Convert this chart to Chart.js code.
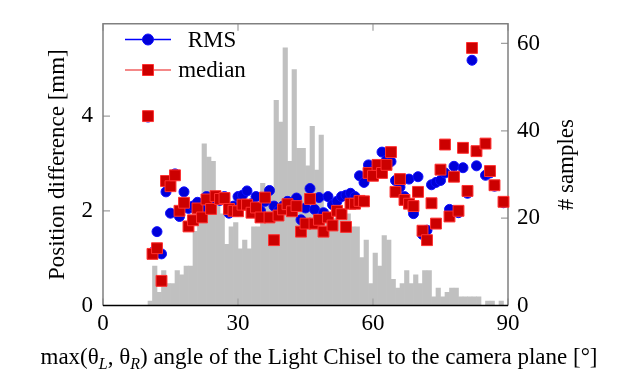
<!DOCTYPE html>
<html>
<head>
<meta charset="utf-8">
<script src="https://cdn.jsdelivr.net/npm/chart.js@4/dist/chart.umd.min.js"></script>
<style>
  html, body { margin: 0; padding: 0; background: #fff; }
  #wrap { width: 618px; height: 376px; }
</style>
</head>
<body>
<div id="wrap"><canvas id="chart" width="618" height="376"></canvas></div>
<script>
// histogram: bin start angle [deg] and number of samples in the bin
const binStarts = [8, 9, 10, 11, 12, 13, 14, 15, 16, 17, 18, 19, 20, 21, 22, 23, 24, 25, 26, 27, 28, 29,
  30, 31, 32, 33, 34, 35, 36, 37, 38, 39, 40, 41, 42, 43, 44, 45, 46, 47, 48, 49,
  50, 51, 52, 53, 54, 55, 56, 57, 58, 59, 60, 61, 62, 63, 64, 65, 66, 67, 68, 69,
  70, 71, 72, 73, 74, 75, 76, 77, 78, 79, 80, 81, 82, 83, 84, 85, 86, 87, 88, 89];
const sampleCounts = [0, 0, 1, 9, 3, 8, 5, 5, 8, 7, 9, 9, 17, 20, 37, 34, 33, 23, 21, 14, 18, 19,
  13, 15, 13, 18, 18, 28, 26, 27, 47, 42, 59, 33, 54, 36, 36, 32, 41, 31, 39, 22,
  21, 20, 21, 22, 21, 18, 18, 11, 15, 5, 12, 9, 16, 15, 6, 4, 5, 8, 5, 7,
  5, 8, 8, 2, 4, 2, 3, 4, 4, 2, 2, 2, 2, 2, 0, 1, 1, 0, 1, 0];

// per-angle position error [mm]
const angles = [10, 11, 12, 13, 14, 15, 16, 17, 18, 19, 20, 21, 22, 23, 24, 25, 26, 27, 28, 29,
  30, 31, 32, 33, 34, 35, 36, 37, 38, 39, 40, 41, 42, 43, 44, 45, 46, 47, 48, 49,
  50, 51, 52, 53, 54, 55, 56, 57, 58, 59, 60, 61, 62, 63, 64, 65, 66, 67, 68, 69,
  70, 71, 72, 73, 74, 75, 76, 77, 78, 79, 80, 81, 82, 83, 84, 85, 86, 87, 88, 89];
const rmsValues = [3.98, 1.12, 1.56, 1.09, 2.40, 1.95, 2.78, 1.88, 2.40, 2.05, 2.10, 2.18, 2.02, 2.30, 2.12, 2.30, 2.22, 2.30, 1.95, 2.10,
  2.30, 2.33, 2.42, 2.15, 2.30, 2.00, 2.20, 2.43, 2.10, 2.00, 2.10, 2.20, 2.05, 2.27, 1.81, 2.06, 2.47, 2.03, 2.28, 1.96,
  2.30, 2.13, 2.20, 2.30, 2.33, 2.37, 2.30, 2.74, 2.60, 2.97, 2.85, 2.95, 3.24, 3.07, 3.04, 2.64, 2.50, 2.30, 2.67, 1.94,
  2.72, 1.50, 1.59, 2.55, 2.60, 2.64, 2.80, 2.03, 2.94, 1.96, 2.91, 2.37, 5.18, 2.95, null, 2.75, 2.80, 2.52, null, 2.17];
const medianValues = [4.00, 1.09, 1.21, 0.52, 2.63, 2.52, 2.75, 2.00, 2.17, 1.67, 1.80, 2.05, 1.86, 2.24, 2.04, 2.31, 2.25, 2.27, 2.04, 2.00,
  1.99, 2.13, 2.13, 1.96, 2.07, 1.86, 2.28, 1.86, 1.38, 1.90, 2.03, 2.14, 1.99, 2.10, 1.56, 1.73, 2.25, 1.73, 1.81, 1.56,
  1.86, 1.69, 2.00, 1.93, 1.66, 2.15, 2.15, 2.21, 2.20, 2.80, 2.74, 2.97, 2.80, 2.97, 3.24, 2.40, 2.67, 2.23, 2.15, 2.10,
  2.40, 1.58, 1.38, 2.16, 1.73, 2.87, 3.40, 1.88, 2.72, 2.00, 3.33, 2.42, 5.44, 3.26, null, 3.42, 2.84, 2.54, null, 2.19];

// axes
const xTicks = [0, 30, 60, 90];
const yTicks = [0, 2, 4];
const y2Ticks = [0, 20, 40, 60];
const xRange = [0, 90];
const yRange = [0, 5.95];
const y2Range = [0, 64.5];

const FONT = "'Liberation Serif', 'Times New Roman', Times, serif";
const FS = 23;
const BLUE = "#0000d8", BLUE_EDGE = "#1010ff";
const RED = "#cc0000", RED_EDGE = "#ff3030";

const toPoints = (vals) => angles.map((a, i) => ({ x: a, y: vals[i] })).filter((p) => p.y !== null);
const fixTicks = (list) => (s) => { s.ticks = list.map((v) => ({ value: v })); };

// frame + inward tick marks, drawn right after the histogram
const framePlugin = {
  id: "frame",
  afterDatasetDraw(chart, args) {
    if (args.meta.type !== "bar") return;
    const { ctx, chartArea: a, scales } = chart;
    ctx.save();
    ctx.strokeStyle = "#a0a0a0";
    ctx.lineWidth = 1.2;
    const tl = 7;
    ctx.beginPath();
    xTicks.forEach((v) => {
      const px = scales.x.getPixelForValue(v);
      ctx.moveTo(px, a.bottom); ctx.lineTo(px, a.bottom - tl);
      ctx.moveTo(px, a.top); ctx.lineTo(px, a.top + tl);
    });
    yTicks.forEach((v) => {
      const py = scales.y.getPixelForValue(v);
      ctx.moveTo(a.left, py); ctx.lineTo(a.left + tl, py);
    });
    y2Ticks.forEach((v) => {
      const py = scales.y2.getPixelForValue(v);
      ctx.moveTo(a.right, py); ctx.lineTo(a.right - tl, py);
    });
    ctx.stroke();
    ctx.lineWidth = 1.5;
    ctx.strokeStyle = "#808080";
    ctx.beginPath();
    ctx.moveTo(a.left, a.bottom); ctx.lineTo(a.left, a.top); ctx.lineTo(a.right, a.top); ctx.lineTo(a.right, a.bottom);
    ctx.stroke();
    ctx.strokeStyle = "#000";
    ctx.beginPath();
    ctx.moveTo(a.left, a.bottom); ctx.lineTo(a.right, a.bottom);
    ctx.stroke();
    ctx.restore();
  },
};

function rotatedText(ctx, text, x, y) {
  ctx.save();
  ctx.translate(x, y);
  ctx.rotate(-Math.PI / 2);
  ctx.textAlign = "center";
  ctx.textBaseline = "middle";
  ctx.fillText(text, 0, 0);
  ctx.restore();
}

// x label with subscripts
function richText(ctx, parts, cx, baseline) {
  const fontOf = (p) => (p.sub ? `italic ${Math.round(FS * 0.7)}px ${FONT}` : `${FS}px ${FONT}`);
  let total = 0;
  parts.forEach((p) => { ctx.font = fontOf(p); total += ctx.measureText(p.t).width; });
  let x = cx - total / 2;
  ctx.textAlign = "left";
  ctx.textBaseline = "alphabetic";
  parts.forEach((p) => {
    ctx.font = fontOf(p);
    ctx.fillText(p.t, x, baseline + (p.sub ? 5 : 0));
    x += ctx.measureText(p.t).width;
  });
}

const labelsPlugin = {
  id: "labels",
  afterDraw(chart) {
    const { ctx, chartArea: a } = chart;
    ctx.save();
    ctx.fillStyle = "#000";
    ctx.font = `${FS}px ${FONT}`;
    const midY = (a.top + a.bottom) / 2;
    rotatedText(ctx, "Position difference [mm]", 58, midY);
    rotatedText(ctx, "# samples", 567, midY);
    richText(ctx, [
      { t: "max(θ" }, { t: "L", sub: true }, { t: ", θ" }, { t: "R", sub: true },
      { t: ") angle of the Light Chisel to the camera plane [°]" },
    ], 319, 364);

    // legend
    const rows = [
      { ds: chart.data.datasets[1], y: 39.5 },
      { ds: chart.data.datasets[2], y: 70 },
    ];
    rows.forEach(({ ds, y }) => {
      ctx.strokeStyle = ds.legendLine;
      ctx.lineWidth = 1.3;
      ctx.beginPath(); ctx.moveTo(125, y); ctx.lineTo(171, y); ctx.stroke();
      ctx.fillStyle = ds.backgroundColor;
      ctx.strokeStyle = ds.borderColor;
      ctx.lineWidth = 1;
      ctx.beginPath();
      if (ds.pointStyle === "rect") ctx.rect(148 - 5.5, y - 5.5, 11, 11);
      else ctx.arc(148, y, 5.5, 0, Math.PI * 2);
      ctx.fill(); ctx.stroke();
      ctx.fillStyle = "#000";
      ctx.font = `${FS}px ${FONT}`;
      ctx.textAlign = "center";
      ctx.textBaseline = "middle";
      ctx.fillText(ds.label, 212, y + 1);
    });
    ctx.restore();
  },
};

new Chart(document.getElementById("chart"), {
  type: "scatter",
  data: {
    datasets: [
      {
        type: "bar",
        label: "# samples",
        data: binStarts.map((b, i) => ({ x: b + 0.5, y: sampleCounts[i] })),
        yAxisID: "y2",
        backgroundColor: "#c0c0c0",
        borderWidth: 0,
        barPercentage: 1,
        categoryPercentage: 1,
        grouped: false,
        order: 3,
      },
      {
        label: "RMS",
        data: toPoints(rmsValues),
        yAxisID: "y",
        pointStyle: "circle",
        pointRadius: 5,
        pointBorderWidth: 1,
        backgroundColor: BLUE,
        borderColor: BLUE_EDGE,
        legendLine: "#0000ff",
        clip: false,
        order: 2,
      },
      {
        label: "median",
        data: toPoints(medianValues),
        yAxisID: "y",
        pointStyle: "rect",
        pointRadius: 7.7,
        pointBorderWidth: 1,
        backgroundColor: RED,
        borderColor: RED_EDGE,
        legendLine: "#f06060",
        clip: false,
        order: 1,
      },
    ],
  },
  options: {
    responsive: false,
    animation: false,
    devicePixelRatio: 1,
    layout: { padding: { top: 11.5, left: 0, right: 0, bottom: 0 } },
    plugins: { legend: { display: false }, tooltip: { enabled: false } },
    scales: {
      x: {
        type: "linear", min: xRange[0], max: xRange[1], offset: false,
        afterBuildTicks: fixTicks(xTicks),
        afterFit: (s) => { s.height = 70.5; },
        grid: { display: false, drawTicks: false, offset: false },
        border: { display: false },
        ticks: { color: "#000", padding: 5, maxRotation: 0, font: { family: FONT, size: FS } },
      },
      y: {
        position: "left", min: yRange[0], max: yRange[1],
        afterBuildTicks: fixTicks(yTicks),
        afterFit: (s) => { s.width = 103; },
        grid: { display: false, drawTicks: false },
        border: { display: false },
        ticks: { color: "#000", padding: 10, font: { family: FONT, size: FS } },
      },
      y2: {
        position: "right", min: y2Range[0], max: y2Range[1],
        afterBuildTicks: fixTicks(y2Ticks),
        afterFit: (s) => { s.width = 110; },
        grid: { display: false, drawTicks: false },
        border: { display: false },
        ticks: { color: "#000", padding: 9, font: { family: FONT, size: FS } },
      },
    },
  },
  plugins: [framePlugin, labelsPlugin],
});
</script>
</body>
</html>
